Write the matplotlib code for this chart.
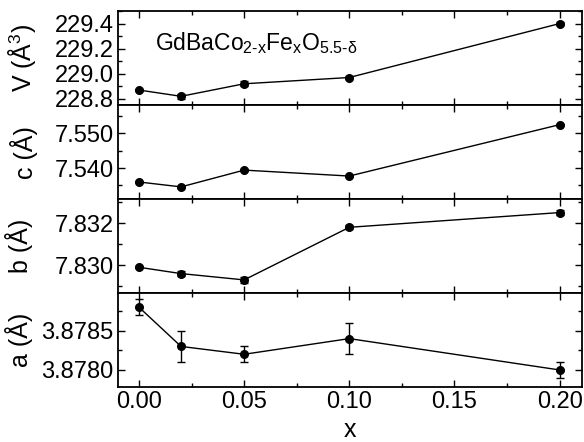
import numpy as np
import matplotlib.pyplot as plt
from matplotlib.ticker import MultipleLocator, FormatStrFormatter

plt.rcParams['font.family'] = ['Liberation Sans', 'DejaVu Sans']
plt.rcParams['mathtext.fontset'] = 'custom'
plt.rcParams['mathtext.rm'] = 'Liberation Sans'
plt.rcParams['mathtext.it'] = 'Liberation Sans'
plt.rcParams['mathtext.default'] = 'regular'

# data
x = np.array([0.0, 0.02, 0.05, 0.10, 0.20])

V = np.array([228.87, 228.82, 228.92, 228.97, 229.40])
V_err = np.array([0.01, 0.02, 0.02, 0.01, 0.01])

c = np.array([7.5360, 7.5346, 7.5394, 7.5377, 7.5524])
c_err = np.array([0.0002, 0.0002, 0.0003, 0.0002, 0.0002])

b = np.array([7.8299, 7.8296, 7.8293, 7.8318, 7.8325])
b_err = np.array([0.00005, 0.00013, 0.00014, 0.0001, 0.0001])

a = np.array([3.8788, 3.8783, 3.8782, 3.8784, 3.8780])
a_err = np.array([0.0001, 0.0002, 0.0001, 0.0002, 0.0001])

panels = [
    (V, V_err, 'V (Å$^3$)', (228.75, 229.5), 0.2, 0.1, '%.1f', -0.172),
    (c, c_err, 'c (Å)', (7.5311, 7.5580), 0.01, 0.005, '%.3f', -0.172),
    (b, b_err, 'b (Å)', (7.82867, 7.83314), 0.002, 0.001, '%.3f', -0.183),
    (a, a_err, 'a (Å)', (3.87778, 3.87898), 0.0005, 0.00025, '%.4f', -0.183),
]

fig, axes = plt.subplots(4, 1, sharex=True, figsize=(5.84, 4.42), dpi=100)
fig.subplots_adjust(left=0.202, right=0.996, top=0.975, bottom=0.124, hspace=0)

for ax, (y, yerr, label, ylim, major, minor, fmt, lx) in zip(axes, panels):
    ax.errorbar(x, y, yerr=yerr, color='black', marker='o', ms=5.5, lw=1,
                elinewidth=1, capsize=3, capthick=1)
    ax.set_ylim(*ylim)
    ax.yaxis.set_major_locator(MultipleLocator(major))
    ax.yaxis.set_minor_locator(MultipleLocator(minor))
    ax.yaxis.set_major_formatter(FormatStrFormatter(fmt))
    ax.set_ylabel(label, fontsize=18)
    ax.yaxis.set_label_coords(lx, 0.5)
    ax.tick_params(which='both', direction='in', top=True, right=True,
                   labelsize=17, width=1, pad=3)
    ax.tick_params(which='major', length=5)
    ax.tick_params(which='minor', length=3)
    for s in ax.spines.values():
        s.set_linewidth(1.3)

axes[-1].set_xlim(-0.01, 0.2105)
axes[-1].xaxis.set_major_locator(MultipleLocator(0.05))
axes[-1].xaxis.set_minor_locator(MultipleLocator(0.025))
axes[-1].xaxis.set_major_formatter(FormatStrFormatter('%.2f'))
axes[-1].set_xlabel('x', fontsize=18, labelpad=3)

axes[0].text(0.08, 0.58, 'GdBaCo$_{2\u2010x}$Fe$_x$O$_{5.5\u2010\\delta}$',
             transform=axes[0].transAxes, fontsize=16.5)

fig.savefig('out.png', dpi=100)
